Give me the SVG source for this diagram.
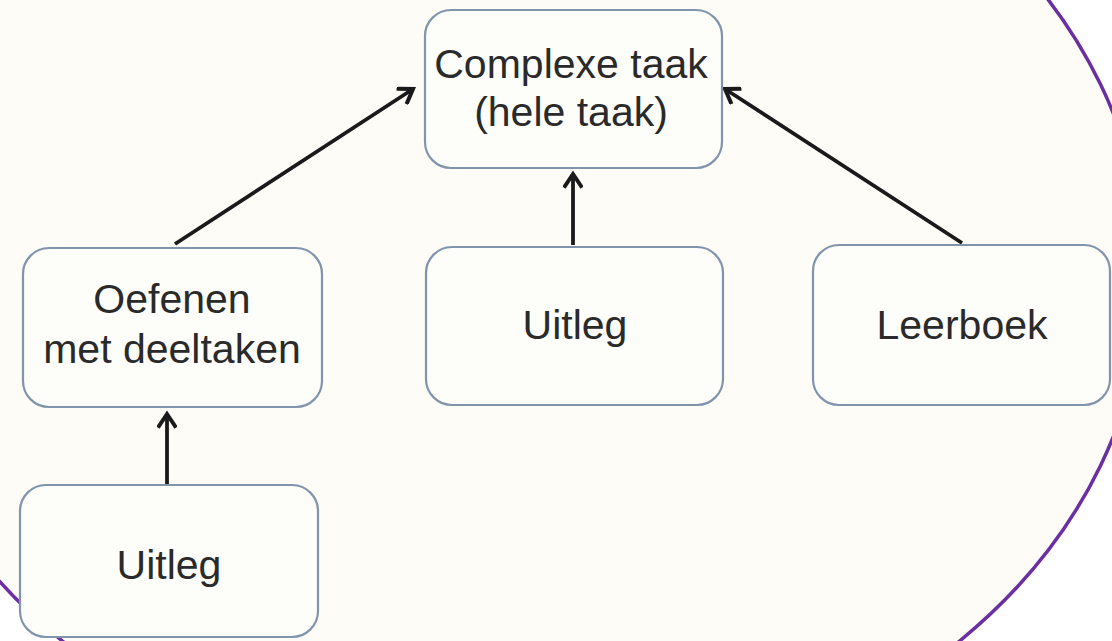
<svg xmlns="http://www.w3.org/2000/svg" width="1112" height="641" viewBox="0 0 1112 641">
  <defs>
    <style>
      .box { fill: #fdfdfa; stroke: #8095ad; stroke-width: 2.2; }
      .lbl { font-family: "Liberation Sans", Arial, sans-serif; font-size: 41px; fill: #2a2a2a; text-anchor: middle; }
      .conn { stroke: #1a1a1a; stroke-width: 3.8; fill: none; marker-end: url(#arr); }
    </style>
    <marker id="arr" viewBox="-16 -10 20 20" markerWidth="20" markerHeight="20" refX="0" refY="0" orient="auto" markerUnits="userSpaceOnUse">
      <path d="M-12,-8 L0,0 L-12,8" fill="none" stroke="#1a1a1a" stroke-width="4" stroke-linecap="square"/>
    </marker>
  </defs>
  <rect x="0" y="0" width="1112" height="641" fill="#ffffff"/>
  <ellipse id="circle" cx="511" cy="275" rx="634" ry="518" fill="#fdfcf7" stroke="#6b2fa3" stroke-width="3.5"/>

  <g id="connectors">
    <line class="conn" x1="175" y1="244" x2="413" y2="89"/>
    <line class="conn" x1="573" y1="245" x2="573" y2="174"/>
    <line class="conn" x1="962" y1="243" x2="725" y2="89"/>
    <line class="conn" x1="167" y1="485" x2="167" y2="414"/>
  </g>

  <g id="complexe">
    <rect class="box" x="425" y="10" width="297" height="158" rx="26"/>
    <text class="lbl" x="571" y="78">Complexe taak</text>
    <text class="lbl" x="571" y="126">(hele taak)</text>
  </g>
  <g id="oefenen">
    <rect class="box" x="23" y="248" width="299" height="159" rx="26"/>
    <text class="lbl" x="172" y="313">Oefenen</text>
    <text class="lbl" x="172" y="363">met deeltaken</text>
  </g>
  <g id="uitleg-mid">
    <rect class="box" x="426" y="247" width="297" height="158" rx="26"/>
    <text class="lbl" x="575" y="339">Uitleg</text>
  </g>
  <g id="leerboek">
    <rect class="box" x="813" y="245" width="297" height="160" rx="26"/>
    <text class="lbl" x="962" y="339">Leerboek</text>
  </g>
  <g id="uitleg-bottom">
    <rect class="box" x="20" y="485" width="298" height="152" rx="26"/>
    <text class="lbl" x="169" y="579">Uitleg</text>
  </g>
</svg>
